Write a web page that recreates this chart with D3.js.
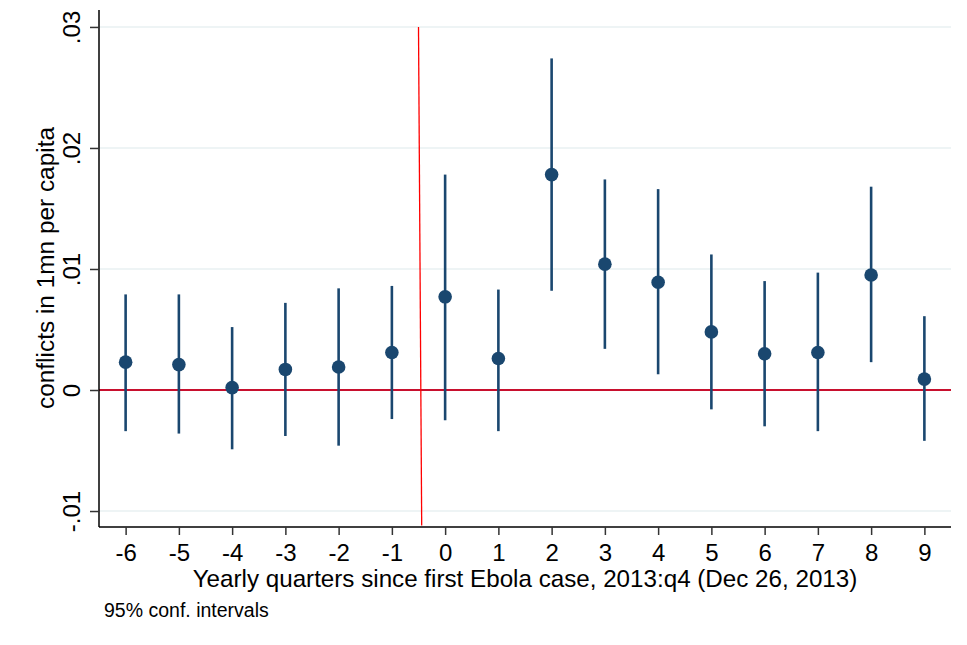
<!DOCTYPE html>
<html><head><meta charset="utf-8">
<script src="https://cdn.jsdelivr.net/npm/d3@7"></script>
<style>body{margin:0;background:#fff}svg{display:block}text{font-family:"Liberation Sans",Arial,Helvetica,sans-serif;fill:#000}</style>
</head><body>
<script>
const quarters = [-6,-5,-4,-3,-2,-1,0,1,2,3,4,5,6,7,8,9];
const estimates = [0.0023,0.0021,0.0002,0.0017,0.0019,0.0031,0.0077,0.0026,0.0178,0.0104,0.0089,0.0048,0.0030,0.0031,0.0095,0.0009];
const ciUpper = [0.0079,0.0079,0.0052,0.0072,0.0084,0.0086,0.0178,0.0083,0.0274,0.0174,0.0166,0.0112,0.0090,0.0097,0.0168,0.0061];
const ciLower = [-0.0034,-0.0036,-0.0049,-0.0038,-0.0046,-0.0024,-0.0025,-0.0034,0.0082,0.0034,0.0013,-0.0016,-0.0030,-0.0034,0.0023,-0.0042];
const yTicks = [-0.01,0,0.01,0.02,0.03];
const yTickLabels = ["-.01","0",".01",".02",".03"];
const eventLine = [{x:-0.5,y:0.03},{x:-0.44,y:-0.0112}];

const W=967,H=645;
const FONT="Liberation Sans, Arial, sans-serif";
const svg=d3.select("body").append("svg").attr("width",W).attr("height",H);
const x=d3.scaleLinear().domain([-6.5,9.5]).range([99,951]);
const y=d3.scaleLinear().domain([-0.01132,0.0314]).range([527,10]);

// grid
svg.append("g").selectAll("line").data(yTicks.filter(t=>t!==0)).join("line")
  .attr("x1",x(-6.5)).attr("x2",x(9.5)).attr("y1",d=>y(d)).attr("y2",d=>y(d))
  .attr("stroke","#e8f0f2").attr("stroke-width",1.5);

// zero line
svg.append("line").attr("x1",x(-6.5)).attr("x2",x(9.5)).attr("y1",y(0)).attr("y2",y(0))
  .attr("stroke","#c8102e").attr("stroke-width",2);

// event line
svg.append("path").datum(eventLine).attr("d",d3.line().x(d=>x(d.x)).y(d=>y(d.y)))
  .attr("stroke","#ff0000").attr("stroke-width",1.3).attr("fill","none");

const data=quarters.map((q,i)=>({q,est:estimates[i],hi:ciUpper[i],lo:ciLower[i]}));
svg.append("g").selectAll("line").data(data).join("line")
  .attr("x1",d=>x(d.q)).attr("x2",d=>x(d.q)).attr("y1",d=>y(d.hi)).attr("y2",d=>y(d.lo))
  .attr("stroke","#1a476f").attr("stroke-width",2.6);
svg.append("g").selectAll("circle").data(data).join("circle")
  .attr("cx",d=>x(d.q)).attr("cy",d=>y(d.est)).attr("r",6.8).attr("fill","#1a476f");

// axes
const xa=svg.append("g").attr("transform","translate(0,527)")
  .call(d3.axisBottom(x).tickValues(quarters).tickSize(8).tickFormat(d=>String(d)));
xa.select(".domain").attr("stroke","#000").attr("stroke-width",1.5).attr("d",`M${x(-6.5)},0H${x(9.5)}`);
xa.selectAll(".tick line").attr("stroke","#333").attr("stroke-width",1.5);
xa.selectAll(".tick text").attr("font-size",24).attr("font-family",FONT).attr("fill","#000").attr("dy",null).attr("y",34);

const ya=svg.append("g").attr("transform","translate(99,0)")
  .call(d3.axisLeft(y).tickValues(yTicks).tickSize(9).tickFormat((d,i)=>yTickLabels[i]));
ya.select(".domain").attr("stroke","#000").attr("stroke-width",1.5).attr("d",`M0,${y(0.0314)}V${y(-0.01132)}`);
ya.selectAll(".tick line").attr("stroke","#333").attr("stroke-width",1.5);
ya.selectAll(".tick text").attr("font-size",24).attr("font-family",FONT).attr("fill","#000")
  .attr("x",null).attr("dy",null).attr("text-anchor","middle")
  .attr("transform","translate(-19,0) rotate(-90)").attr("y",0);

svg.append("text").attr("x",525).attr("y",587).attr("text-anchor","middle").attr("font-size",24.2)
  .text("Yearly quarters since first Ebola case, 2013:q4 (Dec 26, 2013)");
svg.append("text").attr("transform","translate(54,268) rotate(-90)").attr("text-anchor","middle").attr("font-size",24.4)
  .text("conflicts in 1mn per capita");
svg.append("text").attr("x",104).attr("y",617).attr("font-size",19.5).text("95% conf. intervals");
</script>
</body></html>
